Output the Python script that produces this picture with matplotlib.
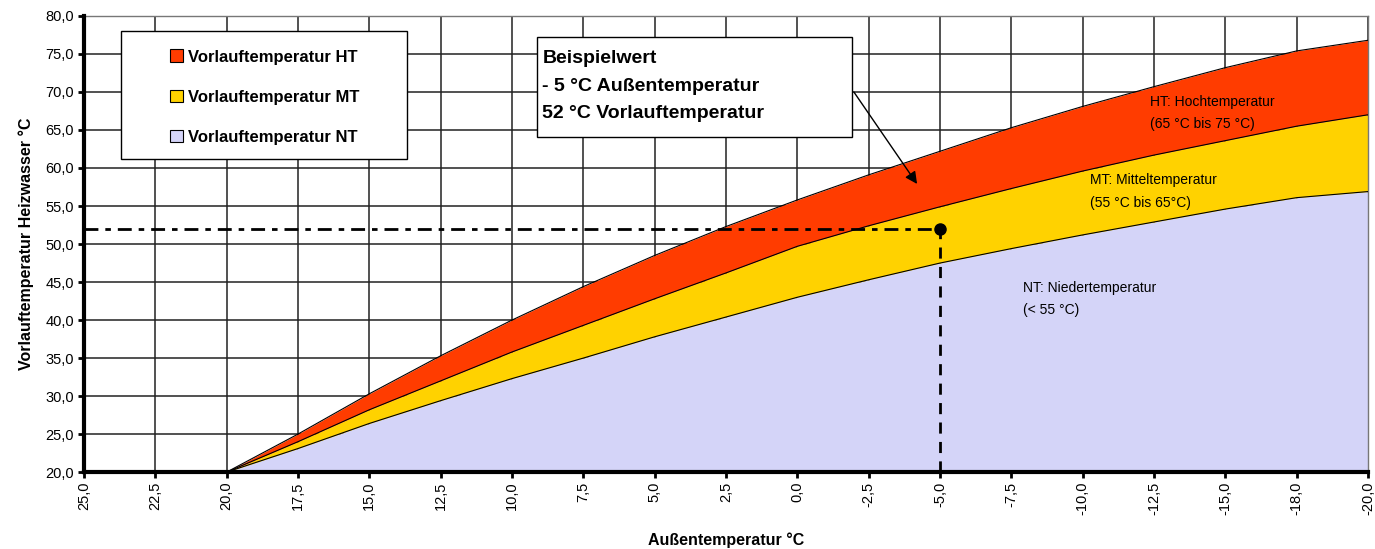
import numpy as np
import matplotlib
matplotlib.use("Agg")
import matplotlib.pyplot as plt
from matplotlib.patches import Patch, Rectangle

plt.rcParams['font.family'] = ['Liberation Sans', 'DejaVu Sans']

# x categories (Außentemperatur) as shown on the axis
categories = ['25,0', '22,5', '20,0', '17,5', '15,0', '12,5', '10,0', '7,5', '5,0', '2,5',
              '0,0', '-2,5', '-5,0', '-7,5', '-10,0', '-12,5', '-15,0', '-18,0', '-20,0']

# upper boundary of each band (no values for 25,0 and 22,5)
nt_top = [np.nan, np.nan, 20.0, 23.1, 26.4, 29.4, 32.3, 35.0, 37.8, 40.4,
          43.0, 45.3, 47.5, 49.4, 51.2, 52.9, 54.6, 56.1, 56.9]
mt_top = [np.nan, np.nan, 20.0, 24.0, 28.2, 32.0, 35.8, 39.3, 42.8, 46.2,
          49.7, 52.4, 54.9, 57.3, 59.6, 61.7, 63.6, 65.5, 67.0]
ht_top = [np.nan, np.nan, 20.0, 25.0, 30.3, 35.3, 40.0, 44.4, 48.5, 52.3,
          55.8, 59.1, 62.2, 65.3, 68.1, 70.7, 73.2, 75.4, 76.8]

legend_labels = ['Vorlauftemperatur HT', 'Vorlauftemperatur MT', 'Vorlauftemperatur NT']
c_ht, c_mt, c_nt = '#FF3C00', '#FFD200', '#D4D4F8'

example_x = '-5,0'
example_y = 52.0

x = np.arange(len(categories))
nt = np.array(nt_top)
mt = np.array(mt_top)
ht = np.array(ht_top)
ok = ~np.isnan(nt)

fig = plt.figure(figsize=(13.75, 5.49), dpi=100)
ax = fig.add_axes([0.061, 0.140, 0.934, 0.831])

ax.fill_between(x[ok], 20, nt[ok], color=c_nt, zorder=2, lw=0)
ax.fill_between(x[ok], nt[ok], mt[ok], color=c_mt, zorder=2, lw=0)
ax.fill_between(x[ok], mt[ok], ht[ok], color=c_ht, zorder=2, lw=0)
for yy in (nt, mt, ht):
    ax.plot(x[ok], yy[ok], color='black', lw=0.8, zorder=3)

ax.set_xlim(0, len(categories) - 1)
ax.set_ylim(20, 80)
ax.set_xticks(x)
ax.set_xticklabels(categories, rotation=90, fontsize=10.5)
yt = np.arange(20, 81, 5)
ax.set_yticks(yt)
ax.set_yticklabels(['%d,0' % v for v in yt], fontsize=10.5)
ax.grid(True, color='#222222', lw=1.1, zorder=1)
ax.set_axisbelow(True)
ax.tick_params(direction='out', length=4, width=2, color='black', pad=3)

for s in ('left', 'bottom'):
    ax.spines[s].set_linewidth(3)
    ax.spines[s].set_zorder(6)
for s in ('top', 'right'):
    ax.spines[s].set_linewidth(1)
    ax.spines[s].set_color('#777777')

ax.set_xlabel('Außentemperatur °C', fontsize=11.5, fontweight='bold', labelpad=12)
ax.set_ylabel('Vorlauftemperatur Heizwasser °C', fontsize=11.5, fontweight='bold', labelpad=8)

# example value: -5 °C outside -> 52 °C flow temperature
ex = categories.index(example_x)
ls = (0, (5, 2.5, 2, 2.5))
ax.plot([0, ex], [example_y, example_y], color='black', lw=2, ls=ls, zorder=4)
ax.plot([ex, ex], [20, example_y], color='black', lw=2, ls=(0, (4, 3)), zorder=4)
ax.plot([ex], [example_y], 'o', color='black', ms=8, zorder=5)

# band labels
ax.text(14.94, 67.2, 'HT: Hochtemperatur\n(65 °C bis 75 °C)', fontsize=10, va='center', linespacing=1.75, zorder=5)
ax.text(14.1, 56.9, 'MT: Mitteltemperatur\n(55 °C bis 65°C)', fontsize=10, va='center', linespacing=1.75, zorder=5)
ax.text(13.16, 42.8, 'NT: Niedertemperatur\n(< 55 °C)', fontsize=10, va='center', linespacing=1.75, zorder=5)

# legend box
ax.add_patch(Rectangle((0.0288, 0.686), 0.2228, 0.281, transform=ax.transAxes,
                       facecolor='white', edgecolor='black', lw=1, zorder=7))
handles = [Patch(facecolor=c, edgecolor='black', lw=0.8) for c in (c_ht, c_mt, c_nt)]
leg = ax.legend(handles, legend_labels, loc='upper left', bbox_to_anchor=(0.0607, 0.945),
                frameon=False, borderpad=0, handlelength=0.8, handleheight=0.8,
                handletextpad=0.3, labelspacing=1.5, prop={'weight': 'bold', 'size': 12})
leg.set_zorder(8)

# annotation box with arrow
ax.add_patch(Rectangle((0.3528, 0.735), 0.2453, 0.219, transform=ax.transAxes,
                       facecolor='white', edgecolor='black', lw=1, zorder=7))
ax.text(0.357, 0.925, 'Beispielwert\n- 5 °C Außentemperatur\n52 °C Vorlauftemperatur',
        transform=ax.transAxes, fontsize=14, fontweight='bold', va='top', ha='left',
        linespacing=1.8, zorder=8)
ax.annotate('', xy=(11.7, 57.6), xytext=(10.77, 70.3),
            arrowprops=dict(arrowstyle='-|>', color='black', lw=1, mutation_scale=18), zorder=8)

fig.savefig('out.png', dpi=100)
